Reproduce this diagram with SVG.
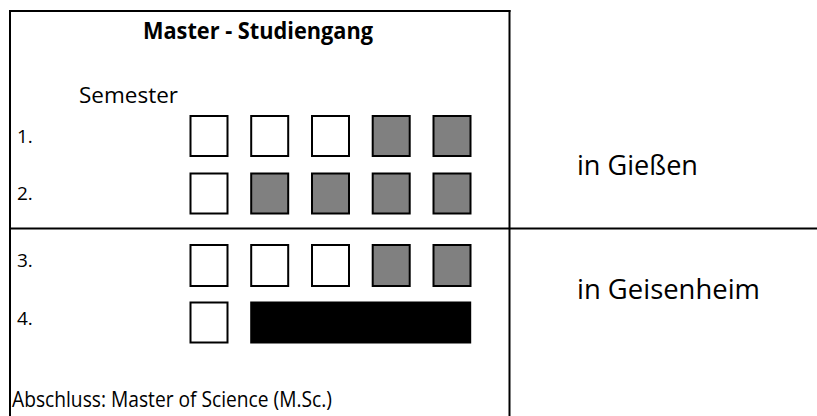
<svg xmlns="http://www.w3.org/2000/svg" width="817" height="416" viewBox="0 0 817 416">
<style>
.ln{stroke:#000;stroke-width:2;fill:none}
.sq{stroke:#000;stroke-width:2;fill:#fff}
.g{fill:#808080}
.b{fill:#000}
text{font-family:"Open Sans","Noto Sans","Liberation Sans",sans-serif;fill:#000}
.t{font-weight:bold;font-size:23px}
.s{font-size:22px}
.n{font-size:19px}
.l{font-size:28px}
.a{font-size:21px}
</style>
<rect width="817" height="416" fill="#fff"/>
<g id="frame">
<line class="ln" x1="10" y1="10" x2="10" y2="416"/>
<line class="ln" x1="9" y1="11" x2="510.5" y2="11"/>
<line class="ln" x1="509.5" y1="10" x2="509.5" y2="416"/>
<line class="ln" x1="9" y1="228.5" x2="817" y2="228.5"/>
</g>
<g id="title"><text class="t" x="143" y="39" textLength="230" lengthAdjust="spacingAndGlyphs">Master - Studiengang</text></g>
<g id="semester"><text class="s" x="79" y="103" textLength="99" lengthAdjust="spacingAndGlyphs">Semester</text></g>
<g id="row1">
<text class="n" x="17" y="143">1.</text>
<rect class="sq" x="190.5" y="116" width="37" height="40"/>
<rect class="sq" x="251.2" y="116" width="37" height="40"/>
<rect class="sq" x="312" y="116" width="37" height="40"/>
<rect class="sq g" x="372.7" y="116" width="37" height="40"/>
<rect class="sq g" x="433.5" y="116" width="37" height="40"/>
</g>
<g id="row2">
<text class="n" x="17" y="200">2.</text>
<rect class="sq" x="190.5" y="173.5" width="37" height="40"/>
<rect class="sq g" x="251.2" y="173.5" width="37" height="40"/>
<rect class="sq g" x="312" y="173.5" width="37" height="40"/>
<rect class="sq g" x="372.7" y="173.5" width="37" height="40"/>
<rect class="sq g" x="433.5" y="173.5" width="37" height="40"/>
</g>
<g id="row3">
<text class="n" x="17" y="267">3.</text>
<rect class="sq" x="190.5" y="245" width="37" height="41"/>
<rect class="sq" x="251.2" y="245" width="37" height="41"/>
<rect class="sq" x="312" y="245" width="37" height="41"/>
<rect class="sq g" x="372.7" y="245" width="37" height="41"/>
<rect class="sq g" x="433.5" y="245" width="37" height="41"/>
</g>
<g id="row4">
<text class="n" x="17" y="325">4.</text>
<rect class="sq" x="190.5" y="302.5" width="37" height="40"/>
<rect class="sq b" x="251.2" y="302.5" width="219" height="40"/>
</g>
<g id="giessen"><text class="l" x="577" y="175" textLength="121" lengthAdjust="spacingAndGlyphs">in Gießen</text></g>
<g id="geisenheim"><text class="l" x="577" y="299" textLength="183" lengthAdjust="spacingAndGlyphs">in Geisenheim</text></g>
<g id="abschluss"><text class="a" x="12" y="407" textLength="320" lengthAdjust="spacingAndGlyphs">Abschluss: Master of Science (M.Sc.)</text></g>
</svg>
